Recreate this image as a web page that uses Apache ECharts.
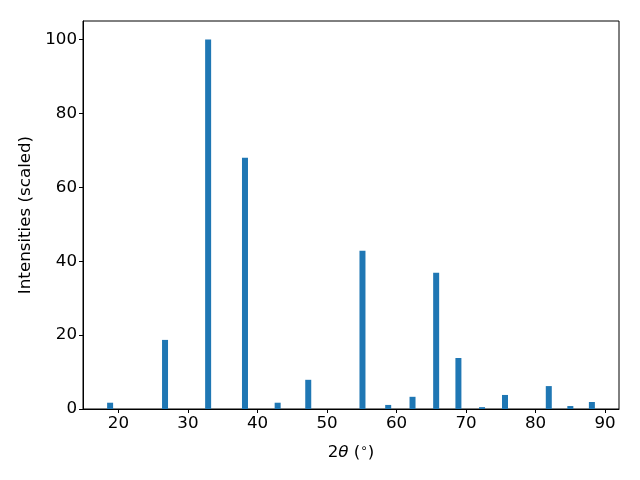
<!DOCTYPE html>
<html><head><meta charset="utf-8">
<script src="https://cdn.jsdelivr.net/npm/echarts@6/dist/echarts.min.js"></script>
<style>html,body{margin:0;padding:0;background:#fff}#c{width:640px;height:480px}</style>
</head><body><div id="c"></div>
<script>
const twoTheta = [18.8, 26.7, 32.9, 38.2, 42.9, 47.3, 55.1, 58.8, 62.3, 65.7, 68.9, 72.3, 75.6, 81.9, 85.0, 88.1];
const intensity = [1.7, 18.7, 100, 68.0, 1.7, 7.9, 42.8, 1.1, 3.3, 36.9, 13.8, 0.5, 3.8, 6.2, 0.8, 1.9];
const xTicks = [20, 30, 40, 50, 60, 70, 80, 90];
const yTicks = [0, 20, 40, 60, 80, 100];

const font = 'DejaVu Sans';
const fs = 16.7;
const chart = echarts.init(document.getElementById('c'), null, {renderer: 'canvas'});
chart.setOption({
  animation: false,
  backgroundColor: '#fff',
  grid: {left: 83, right: 21, top: 21, bottom: 71, show: true, borderColor: '#000', borderWidth: 1, backgroundColor: 'transparent'},
  xAxis: {
    type: 'value', min: 14.9, max: 92.0, interval: 10,
    axisLine: {show: true, onZero: false, lineStyle: {color: '#000', width: 1}},
    axisTick: {show: true, length: 4, lineStyle: {color: '#000'}, customValues: xTicks},
    axisLabel: {color: '#000', fontFamily: font, fontSize: fs, margin: 6, customValues: xTicks},
    splitLine: {show: false},
    name: '{a|2}{b|θ}{a| (}{c|∘}{a|)}',
    nameLocation: 'middle', nameGap: 34,
    nameTextStyle: {
      rich: {
        a: {fontFamily: font, fontSize: fs, color: '#000'},
        b: {fontFamily: font, fontSize: fs, fontStyle: 'italic', color: '#000'},
        c: {fontFamily: font, fontSize: 12, color: '#000', verticalAlign: 'top', padding: [0, 0, 7, 0]}
      }
    }
  },
  yAxis: {
    type: 'value', min: 0, max: 105, interval: 20,
    axisLine: {show: true, lineStyle: {color: '#000', width: 1}},
    axisTick: {show: true, length: 4, lineStyle: {color: '#000'}, customValues: yTicks},
    axisLabel: {color: '#000', fontFamily: font, fontSize: fs, margin: 6, customValues: yTicks},
    splitLine: {show: false},
    name: 'Intensities (scaled)', nameLocation: 'middle', nameGap: 48,
    nameTextStyle: {fontFamily: font, fontSize: fs, color: '#000'}
  },
  series: [{
    type: 'bar',
    data: twoTheta.map((x, i) => [x, intensity[i]]),
    barWidth: 6,
    itemStyle: {color: '#1f77b4'}
  }]
});
</script></body></html>
